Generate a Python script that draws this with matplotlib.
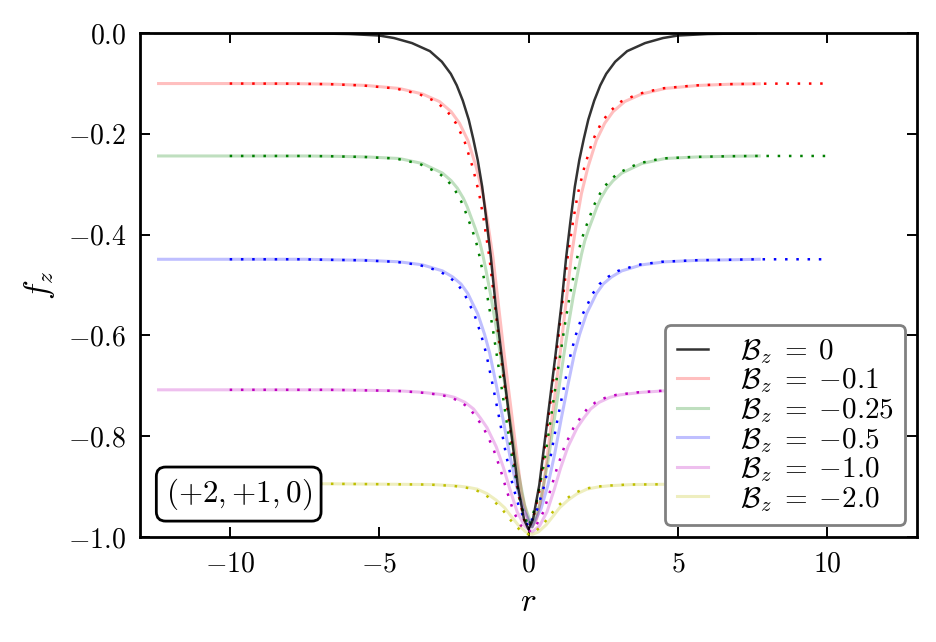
import numpy as np
import matplotlib
matplotlib.use("Agg")
import matplotlib.pyplot as plt
from matplotlib.ticker import FuncFormatter

plt.rcParams['mathtext.fontset'] = 'cm'
plt.rcParams['font.family'] = 'serif'
plt.rcParams['font.serif'] = ['cmr10', 'DejaVu Serif']
plt.rcParams['axes.unicode_minus'] = True

# half profiles: distance from centre d, value f_z
d_black = [0, 0.15, 0.36, 0.64, 0.9, 1.1, 1.26, 1.4, 1.55, 1.7, 1.85, 2.0, 2.2, 2.4, 2.6,
           2.9, 3.3, 3.9, 4.5, 5.0, 6.0, 7.0, 7.6, 8.0, 10.0, 12.5]
f_black = [-0.985, -0.965, -0.897, -0.764, -0.64, -0.54, -0.445, -0.375, -0.305, -0.252,
           -0.21, -0.172, -0.134, -0.104, -0.081, -0.057, -0.036, -0.02, -0.01, -0.005,
           -0.002, -0.001, -0.0005, 0.0, 0.0, 0.0]

d_red = [0, 0.15, 0.36, 0.64, 0.95, 1.31, 1.5, 1.65, 1.87, 2.15, 2.43, 2.71, 3.1, 3.67,
         4.45, 5.57, 6.69, 7.6, 8.0, 10.0, 12.5]
f_red = [-0.98, -0.965, -0.91, -0.777, -0.63, -0.445, -0.37, -0.319, -0.266, -0.213,
         -0.179, -0.156, -0.136, -0.121, -0.110, -0.104, -0.1015, -0.1008, -0.1005,
         -0.1003, -0.1003]

d_green = [0, 0.25, 0.53, 0.75, 0.98, 1.2, 1.37, 1.54, 1.65, 1.76, 1.9, 2.04, 2.17, 2.3,
           2.5, 2.71, 3.0, 3.67, 4.45, 5.5, 6.69, 7.6, 10.0, 12.5]
f_green = [-0.98, -0.937, -0.851, -0.764, -0.671, -0.585, -0.525, -0.472, -0.44, -0.413,
           -0.388, -0.366, -0.345, -0.328, -0.308, -0.293, -0.278, -0.259, -0.249, -0.246,
           -0.2445, -0.244, -0.244, -0.244]

d_blue = [0, 0.3, 0.53, 0.75, 0.98, 1.2, 1.42, 1.59, 1.82, 1.98, 2.15, 2.38, 2.66, 3.0,
          3.67, 4.45, 5.57, 6.69, 7.6, 10.0, 12.5]
f_blue = [-0.98, -0.944, -0.897, -0.837, -0.764, -0.698, -0.635, -0.598, -0.557, -0.538,
          -0.517, -0.498, -0.484, -0.472, -0.460, -0.454, -0.451, -0.450, -0.449, -0.449,
          -0.449]

d_mag = [0, 0.25, 0.5, 0.75, 0.95, 1.2, 1.51, 1.73, 1.96, 2.24, 2.6, 2.94, 3.67, 4.45,
         6.69, 7.6, 10.0, 12.5]
f_mag = [-0.99, -0.978, -0.950, -0.904, -0.864, -0.821, -0.783, -0.764, -0.746, -0.733,
         -0.723, -0.718, -0.713, -0.710, -0.708, -0.708, -0.708, -0.708]

d_yel = [0, 0.21, 0.47, 0.7, 0.92, 1.2, 1.51, 1.84, 2.19, 2.55, 3.33, 6.69, 7.6, 10.0, 12.5]
f_yel = [-0.995, -0.99, -0.976, -0.959, -0.942, -0.927, -0.914, -0.905, -0.901, -0.8985,
         -0.896, -0.8945, -0.8945, -0.8945, -0.8945]

bz_values = ['0', '-0.1', '-0.25', '-0.5', '-1.0', '-2.0']
labels = [r'$\mathcal{B}_z\;=\;{%s}$' % b for b in bz_values]
colors = ['r', 'g', 'b', 'm', 'y']
classic = {'r': (1, 0, 0), 'g': (0, 0.5, 0), 'b': (0, 0, 1), 'm': (0.75, 0, 0.75), 'y': (0.75, 0.75, 0)}

solid_shift = 0.12
solid_min, solid_max = -12.5, 7.7
dot_max = 10.0


def mirror(d, f):
    d = np.asarray(d, dtype=float)
    f = np.asarray(f, dtype=float)
    return np.concatenate([-d[::-1], d[1:]]), np.concatenate([f[::-1], f[1:]])


fig = plt.figure(figsize=(4.68, 3.21), dpi=200)
ax = fig.add_axes([0.1496, 0.1636, 0.8301, 0.785])

handles = []
curves = [(d_red, f_red), (d_green, f_green), (d_blue, f_blue), (d_mag, f_mag), (d_yel, f_yel)]
for (d, f), c in zip(curves, colors):
    r, fz = mirror(d, f)
    rs = r + solid_shift
    m = (rs >= solid_min - 0.2) & (rs <= solid_max + 0.05)
    h, = ax.plot(rs[m], fz[m], color=classic[c], alpha=0.25, lw=1.1)
    handles.append(h)
    m2 = np.abs(r) <= dot_max
    ax.plot(r[m2], fz[m2], color=classic[c], lw=0.9, dashes=(1.0, 3.5))

r, fz = mirror(d_black, f_black)
m = (r >= solid_min) & (r <= solid_max + 0.05)
hb, = ax.plot(r[m], fz[m], color='k', alpha=0.8, lw=0.9)
handles.insert(0, hb)

ax.set_xlim(-13, 13)
ax.set_ylim(-1, 0)
ax.set_xticks([-10, -5, 0, 5, 10])
ax.set_yticks([-1.0, -0.8, -0.6, -0.4, -0.2, 0.0])
ax.xaxis.set_major_formatter(FuncFormatter(lambda v, p: r'$%d$' % v))
ax.yaxis.set_major_formatter(FuncFormatter(lambda v, p: r'$%.1f$' % v))
ax.tick_params(direction='in', top=True, right=True, length=3.5, width=0.7,
               labelsize=10, pad=5)
for s in ax.spines.values():
    s.set_linewidth(1.0)

ax.set_xlabel(r'$r$', fontsize=12)
ax.set_ylabel(r'$f_z$', fontsize=12)

leg = ax.legend(handles, labels, loc='lower right', fontsize=10.5, labelspacing=0.02,
                handlelength=1.05, handletextpad=1.1, fancybox=True, framealpha=1.0,
                borderpad=0.4, borderaxespad=0.4)
leg.get_frame().set_edgecolor('0.5')
leg.get_frame().set_linewidth(1.0)

ax.text(0.033, 0.05, r'$(+2,{+1},0)$', transform=ax.transAxes, fontsize=11.2,
        ha='left', va='bottom',
        bbox=dict(boxstyle='round,pad=0.3', fc='w', ec='k', lw=1.0))

fig.savefig('out.png', dpi=200)
